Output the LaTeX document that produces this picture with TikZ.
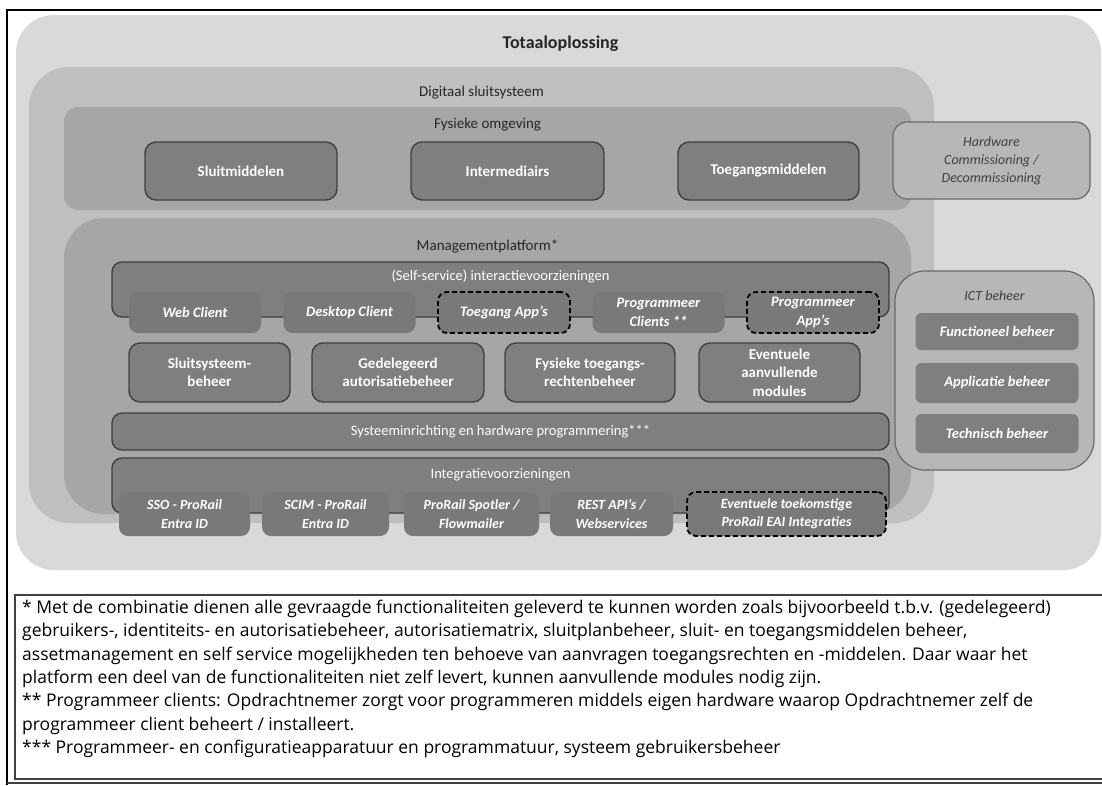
\documentclass[tikz,border=0pt]{standalone}
\usepackage{fontspec}
\setmainfont{Carlito}
\newfontfamily\notefont{Open Sans}
\usetikzlibrary{positioning}

\definecolor{lichtgrijs}{HTML}{D9D9D9}
\definecolor{grijsA}{HTML}{BFBFBF}
\definecolor{grijsB}{HTML}{A6A6A6}
\definecolor{donker}{HTML}{7F7F7F}
\definecolor{rand}{HTML}{404040}
\definecolor{tekst}{HTML}{262626}

\begin{document}
\begin{tikzpicture}[x=1pt,y=-1pt,
  layer/.style={inner sep=0pt,rounded corners=#1},
  blok/.style={draw=rand,line width=1.4pt,fill=donker,rounded corners=11pt,inner sep=0pt,text=white,font=\fontsize{15}{19}\selectfont\bfseries,align=center},
  bar/.style={draw=rand,line width=1.4pt,fill=donker,rounded corners=10pt,inner sep=0pt,minimum width=777pt,text=white,font=\fontsize{14.5}{16}\selectfont},
  pill/.style={fill=donker!95!black,rounded corners=9pt,inner sep=0pt,text=white,font=\fontsize{14.5}{18.5}\selectfont\bfseries\itshape,align=center},
  dashpill/.style={pill,draw=black,line width=1.8pt,dash pattern=on 5pt off 3pt},
  zijbox/.style={fill=grijsA!96!black,draw=grijsA!55!black,line width=1.2pt,inner sep=0pt,rounded corners=#1},
  kop/.style={text=tekst,font=\fontsize{15}{17}\selectfont,inner sep=0pt},
  zijtekst/.style={text=rand,font=\fontsize{14}{18}\selectfont\itshape,align=center,inner sep=0pt},
  regel/.style={anchor=west,inner sep=0pt,text=black,font=\notefont\fontsize{17.5}{20}\selectfont}]

\useasboundingbox[fill=white] (0,0) rectangle (1102,785);

% kader en voetnoot
\draw[line width=2pt] (7,785) -- (7,10) -- (1102,10);
\draw[line width=1.6pt,draw=rand] (7,783) -- (1102,783);
\draw[line width=1.6pt,draw=rand] (1102,595) -- (15,595) -- (15,779) -- (1102,779);

% lagen
\node[layer=38pt,fill=lichtgrijs,minimum width=1085pt,minimum height=555pt] (tot) at (558.5,292.5) {};
\node[kop,font=\fontsize{18}{20}\selectfont\bfseries] at ([xshift=2pt,yshift=-29pt]tot.north) {Totaaloplossing};

\node[layer=40pt,fill=grijsA,minimum width=905pt,minimum height=456pt] (digi) at (481.5,295) {};
\node[kop] at ([yshift=-26pt]digi.north) {Digitaal sluitsysteem};

\node[layer=14pt,fill=grijsB,minimum width=847pt,minimum height=103pt] (fys) at (487.5,158.5) {};
\node[kop] at ([yshift=-18pt]fys.north) {Fysieke omgeving};

\node[blok,minimum width=192pt,minimum height=58pt] (sluit) at (241,171) {Sluitmiddelen};
\node[blok,minimum width=193pt,minimum height=58pt] (inter) at (507.5,171) {Intermediairs};
\node[blok,minimum width=181pt,minimum height=58pt] (toeg) at (768.5,171) {Toegangsmiddelen};

\node[zijbox=14pt,minimum width=197pt,minimum height=77pt] (hw) at (991.5,160.5) {};
\node[zijtekst] at (hw) {Hardware\\Commissioning /\\Decommissioning};

\node[layer=40pt,fill=grijsB,minimum width=847pt,minimum height=296pt] (mgmt) at (487.5,366) {};
\node[kop] at ([yshift=-29pt]mgmt.north) {Managementplatform*};

% interactievoorzieningen
\node[bar,minimum height=55pt] (self) at (500.5,289.5) {};
\node[kop,text=white,font=\fontsize{14.5}{16}\selectfont] at ([yshift=-15pt]self.north) {(Self-service) interactievoorzieningen};
\foreach \t/\s [count=\n] in {Web Client/pill, Desktop Client/pill, Toegang App’s/dashpill,
    {Programmeer\\Clients **}/pill, {Programmeer\\App’s}/dashpill}
  \node[\s,minimum width=132pt,minimum height=41pt] (app\n) at (195+154.5*\n-154.5,312.5) {\t};

% beheermodules
\foreach \x/\w/\t [count=\n] in {209.5/161/{Sluitsysteem-\\beheer}, 398/172/{Gedelegeerd\\autorisatiebeheer},
    590/170/{Fysieke toegangs-\\rechtenbeheer}, 779.5/161/{Eventuele\\aanvullende\\modules}}
  \node[blok,minimum width=\w pt,minimum height=59pt,font=\fontsize{15}{18.5}\selectfont\bfseries] (mod\n) at (\x,372.5) {\t};

\node[bar,minimum height=37pt] (sys) at (500.5,431.5) {Systeeminrichting en hardware programmering***};

% integraties
\node[bar,minimum height=55pt] (integ) at (500.5,485.5) {};
\node[kop,text=white,font=\fontsize{14.5}{16}\selectfont] at ([yshift=-17pt]integ.north) {Integratievoorzieningen};
\foreach \x/\w/\t/\s [count=\n] in {184.5/131/{SSO - ProRail\\Entra ID}/pill, 325.5/127/{SCIM - ProRail\\Entra ID}/pill,
    471.5/135/{ProRail Spotler /\\Flowmailer}/pill, 611.5/123/{REST API’s /\\Webservices}/pill,
    786.5/199/{Eventuele toekomstige\\ProRail EAI Integraties}/dashpill}
  \node[\s,minimum width=\w pt,minimum height=44pt,font=\fontsize{14}{18.5}\selectfont\bfseries\itshape] (int\n) at (\x,514) {\t};

% ICT beheer
\node[zijbox=30pt,minimum width=199pt,minimum height=199pt] (ict) at (994.5,370.5) {};
\node[zijtekst] at ([yshift=-25pt]ict.north) {ICT beheer};
\foreach \t/\y/\h [count=\n] in {Functioneel beheer/331.5/37, Applicatie beheer/383/40, Technisch beheer/433.5/39}
  \node[pill,rounded corners=6pt,fill=donker,minimum width=163pt,minimum height=\h pt] (ict\n) at (997,\y) {\t};

% voetnoot tekst
\foreach \r [count=\n] in {
    {* Met de combinatie dienen alle gevraagde functionaliteiten geleverd te kunnen worden zoals bijvoorbeeld t.b.v. (gedelegeerd)},
    {gebruikers-, identiteits- en autorisatiebeheer, autorisatiematrix, sluitplanbeheer, sluit- en toegangsmiddelen beheer,},
    {assetmanagement en self service mogelijkheden ten behoeve van aanvragen toegangsrechten en -middelen. Daar waar het},
    {platform een deel van de functionaliteiten niet zelf levert, kunnen aanvullende modules nodig zijn.},
    {** Programmeer clients: Opdrachtnemer zorgt voor programmeren middels eigen hardware waarop Opdrachtnemer zelf de},
    {programmeer client beheert / installeert.},
    {*** Programmeer- en configuratieapparatuur en programmatuur, systeem gebruikersbeheer}}
  \node[regel] (regel\n) at (22,609+23.3*\n-23.3) {\r};
\end{tikzpicture}
\end{document}
